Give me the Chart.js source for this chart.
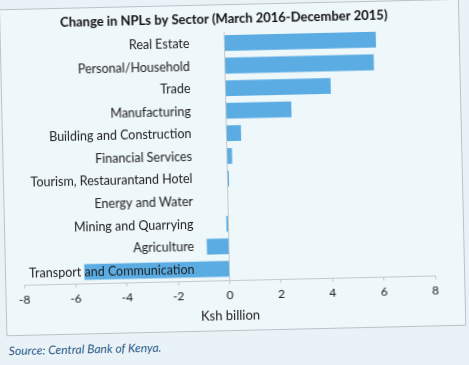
<!DOCTYPE html>
<html>
<head>
<meta charset="utf-8">
<script src="https://cdn.jsdelivr.net/npm/chart.js@4.4.1/dist/chart.umd.min.js"></script>
<style>
  html, body { margin: 0; padding: 0; }
  body { width: 469px; height: 365px; background: #e9f3f7; overflow: hidden; }
  /* 原図はスキャンで少し傾いているので全体を回転 */
  #page { position: absolute; left: 0; top: 0; width: 469px; height: 365px;
          transform: rotate(-1.3deg); transform-origin: 234px 182px; }
  #box { position: absolute; left: 3px; top: 4px; width: 458px; height: 325px;
         border: 1px solid #b9c3c7; background: #eef7fa; }
  #source { position: absolute; left: 5px; top: 338px; font: italic 12px Lato, sans-serif;
            color: #2d5d8c; }
</style>
</head>
<body>
<div id="page">
  <div id="box"><canvas id="npl-chart" width="458" height="325"></canvas></div>
  <div id="source">Source: Central Bank of Kenya.</div>
</div>
<script>
// 業種ごとの NPL 変化（Ksh billion）
const sectors = [
  "Real Estate",
  "Personal/Household",
  "Trade",
  "Manufacturing",
  "Building and Construction",
  "Financial Services",
  "Tourism, Restaurantand Hotel",
  "Energy and Water",
  "Mining and Quarrying",
  "Agriculture",
  "Transport and Communication",
];
const changes = [5.9, 5.8, 4.1, 2.55, 0.57, 0.2, 0.06, 0, -0.08, -0.86, -5.65];

const xMin  = -8;
const xMax  = 8;
const xStep = 2;
const labelEdge = -1.36;   // カテゴリ名の右端を置く x の値

const FONT = "Lato, 'Open Sans', sans-serif";

new Chart(document.getElementById("npl-chart"), {
  type: "bar",
  data: {
    labels: sectors,
    datasets: [{
      data:               changes,
      backgroundColor:    "#5aace3",
      borderWidth:        0,
      barPercentage:      0.7,
      categoryPercentage: 1.0,
    }],
  },
  options: {
    indexAxis:           "y",
    responsive:          false,
    maintainAspectRatio: false,
    animation:           false,
    layout: { padding: { left: 18, right: 29, top: 0, bottom: 6 } },
    plugins: {
      legend:  { display: false },
      tooltip: { enabled: false },
      title: {
        display: true,
        text:    "Change in NPLs by Sector (March 2016-December 2015)",
        color:   "#111",
        font:    { family: FONT, size: 13, weight: "bold" },
        padding: { top: 6, bottom: 5 },
      },
    },
    scales: {
      x: {
        min: xMin,
        max: xMax,
        ticks: {
          stepSize: xStep,
          color:    "#222",
          font:     { family: FONT, size: 12 },
          padding:  4,
        },
        grid: {
          // 0 の位置だけ縦線を引く
          color:      (ctx) => (ctx.tick && ctx.tick.value === 0) ? "#c4c9cc" : "rgba(0,0,0,0)",
          tickColor:  "#c4c9cc",
          tickLength: 4,
        },
        border: { display: true, color: "#c4c9cc" },
        title: {
          display: true,
          text:    "Ksh billion",
          color:   "#222",
          font:    { family: FONT, size: 13 },
          padding: { top: 2, bottom: 0 },
        },
      },
      y: {
        position: { x: labelEdge },
        grid:     { display: false },
        border:   { display: false },
        ticks: {
          z:     1,   // 棒の上にラベルを描く
          color: "#222",
          font:  { family: FONT, size: 12.5 },
        },
      },
    },
  },
});
</script>
</body>
</html>
